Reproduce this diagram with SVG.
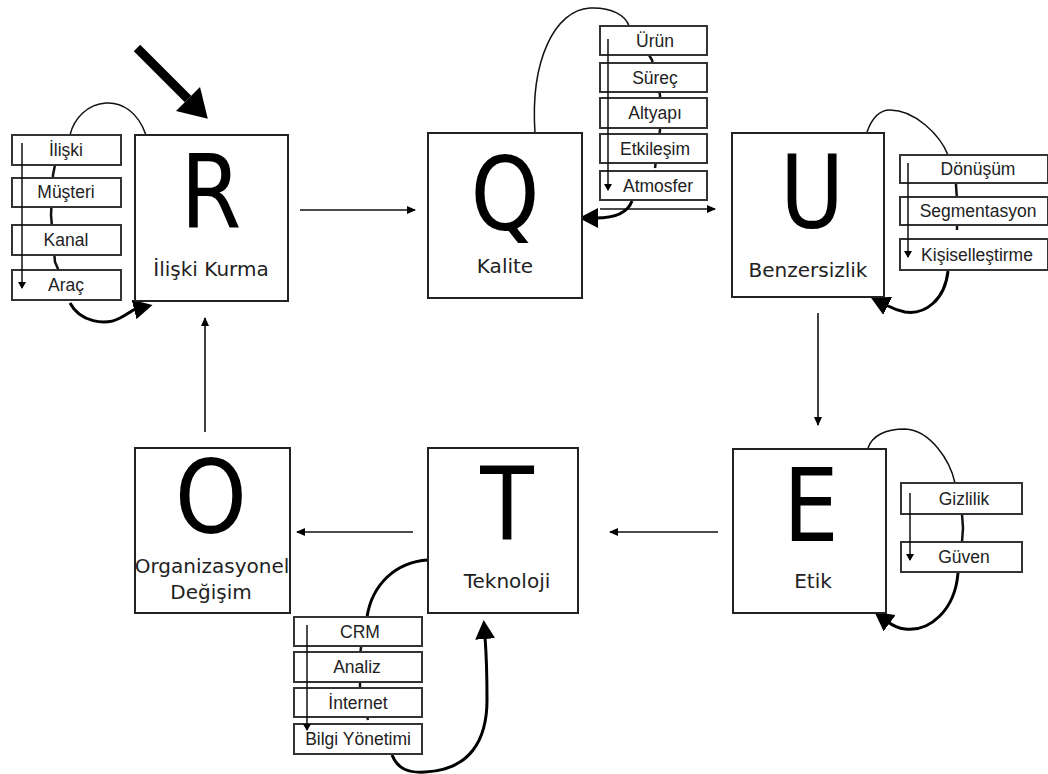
<svg xmlns="http://www.w3.org/2000/svg" width="1048" height="774" viewBox="0 0 1048 774">
<style>
.box{fill:#fff;stroke:#222;stroke-width:2}
.item{fill:#fff;stroke:#333;stroke-width:2}
.big{font-family:"DejaVu Sans",sans-serif;font-size:102px;fill:#000;text-anchor:middle}
.lbl{font-family:"DejaVu Sans",sans-serif;font-size:20px;fill:#222;text-anchor:middle}
.it{font-family:"Liberation Sans",Arial,sans-serif;font-size:17.5px;fill:#222;text-anchor:middle}
.ln{fill:none;stroke:#111;stroke-width:1.5}
.thin{fill:none;stroke:#111;stroke-width:1.6}
.thick{fill:none;stroke:#000;stroke-width:3}
.gap{fill:none;stroke:#111;stroke-width:2.5}
</style>
<defs>
<marker id="a" markerUnits="userSpaceOnUse" markerWidth="9" markerHeight="8" refX="8" refY="4" orient="auto"><path d="M0,0 L9,4 L0,8 z" fill="#000"/></marker>
<marker id="b" markerUnits="userSpaceOnUse" markerWidth="20" markerHeight="20" refX="2" refY="10" orient="auto"><path d="M0,0 L19,10 L0,20 z" fill="#000"/></marker>
<marker id="d" markerUnits="userSpaceOnUse" markerWidth="30" markerHeight="34" refX="0" refY="17" orient="auto"><path d="M0,0 L28,17 L0,34 z" fill="#000"/></marker>
<marker id="s" markerUnits="userSpaceOnUse" markerWidth="7" markerHeight="8" refX="6" refY="4" orient="auto"><path d="M0,0 L7,4 L0,8 z" fill="#000"/></marker>
</defs>

<g id="connectors">
<path class="thin" d="M300,210 L415,210" marker-end="url(#a)"/>
<path class="thin" d="M600,209 L715,209" marker-end="url(#a)"/>
<path class="thin" d="M818,313 L818,425" marker-end="url(#a)"/>
<path class="thin" d="M718,532 L610,532" marker-end="url(#a)"/>
<path class="thin" d="M413,532 L297,532" marker-end="url(#a)"/>
<path class="thin" d="M205,432 L205,318" marker-end="url(#a)"/>
<path fill="none" stroke="#000" stroke-width="9" d="M137,48 L188,99" marker-end="url(#d)"/>
<!-- R loop -->
<path class="ln" d="M146,135 C138,112 122,102 106,103 C88,104 74,118 70,135"/>
<path class="gap" d="M60,140 L53,175 L51,215 L55,262 L65,285"/>
<path class="thick" d="M70,303 C80,322 105,326 120,318 C128,314 132,310 136,309" marker-end="url(#b)"/>
<!-- Q loop -->
<path class="ln" d="M535,133 C530,60 555,10 590,8 C612,7 626,16 629,26"/>
<path class="gap" d="M640,40 L652,60 L660,95 L660,130 L655,168"/>
<path class="thick" d="M632,201 C628,212 615,218 596,218" marker-end="url(#b)"/>
<!-- U loop -->
<path class="ln" d="M867,132 C872,118 880,110 890,110 C915,110 940,135 948,155"/>
<path class="gap" d="M955,170 L957,200 L957,230"/>
<path class="thick" d="M948,271 C945,300 925,315 905,312 C895,310 890,307 886,305" marker-end="url(#b)"/>
<!-- E loop -->
<path class="ln" d="M868,448 C872,436 885,429 905,429 C930,430 950,460 955,483"/>
<path class="gap" d="M962,514 L963,528 L962,542"/>
<path class="thick" d="M958,573 C955,610 930,632 905,629 C897,628 892,625 888,622" marker-end="url(#b)"/>
<!-- T loop -->
<path class="thick" d="M367,617 C372,585 395,562 428,560"/>
<path class="gap" d="M362,640 L360,655 L360,690 L368,720"/>
<path class="thick" d="M392,755 C398,770 410,773 425,772 C470,770 487,740 487,700 C487,670 486,650 485,637" marker-end="url(#b)"/>
</g>

<g id="node-R">
<rect class="box" x="135" y="135" width="153" height="166"/>
<text class="big" transform="translate(211,227) scale(0.86,1)">R</text>
<text class="lbl" x="211" y="276" font-size="21">İlişki Kurma</text>
</g>
<g id="list-R">
<rect class="item" x="12" y="135" width="109" height="30"/>
<rect class="item" x="12" y="178" width="109" height="29"/>
<rect class="item" x="12" y="225" width="109" height="30"/>
<rect class="item" x="12" y="270" width="109" height="30"/>
<text class="it" x="66" y="156">İlişki</text>
<text class="it" x="66" y="198">Müşteri</text>
<text class="it" x="66" y="246">Kanal</text>
<text class="it" x="66" y="291">Araç</text>
<path class="ln" d="M22,143 L22,288" marker-end="url(#s)"/>
</g>

<g id="node-Q">
<rect class="box" x="428" y="133" width="154" height="165"/>
<text class="big" transform="translate(505,230) scale(0.86,1)">Q</text>
<text class="lbl" x="505" y="273">Kalite</text>
</g>
<g id="list-Q">
<rect class="item" x="600" y="26" width="107" height="29"/>
<rect class="item" x="600" y="63" width="107" height="29"/>
<rect class="item" x="600" y="98" width="107" height="30"/>
<rect class="item" x="600" y="134" width="107" height="29"/>
<rect class="item" x="600" y="171" width="107" height="29"/>
<text class="it" x="655" y="47">Ürün</text>
<text class="it" x="655" y="84">Süreç</text>
<text class="it" x="655" y="119">Altyapı</text>
<text class="it" x="655" y="155">Etkileşim</text>
<text class="it" x="658" y="192">Atmosfer</text>
<path class="ln" d="M608,39 L608,190" marker-end="url(#s)"/>
</g>

<g id="node-U">
<rect class="box" x="732" y="133" width="152" height="164"/>
<text class="big" transform="translate(812,228) scale(0.86,1)">U</text>
<text class="lbl" x="808" y="277" font-size="22">Benzersizlik</text>
</g>
<g id="list-U">
<rect class="item" x="900" y="155" width="148" height="28"/>
<rect class="item" x="900" y="197" width="148" height="28"/>
<rect class="item" x="900" y="239" width="148" height="31"/>
<text class="it" x="978" y="175">Dönüşüm</text>
<text class="it" x="978" y="217">Segmentasyon</text>
<text class="it" x="977" y="261">Kişiselleştirme</text>
<path class="ln" d="M908,163 L908,257" marker-end="url(#s)"/>
</g>

<g id="node-E">
<rect class="box" x="733" y="449" width="153" height="164"/>
<text class="big" transform="translate(811,541) scale(0.86,1)">E</text>
<text class="lbl" x="813" y="588">Etik</text>
</g>
<g id="list-E">
<rect class="item" x="901" y="483" width="121" height="31"/>
<rect class="item" x="901" y="542" width="121" height="30"/>
<text class="it" x="964" y="505">Gizlilik</text>
<text class="it" x="964" y="563">Güven</text>
<path class="ln" d="M910,493 L910,560" marker-end="url(#s)"/>
</g>

<g id="node-T">
<rect class="box" x="428" y="448" width="150" height="165"/>
<text class="big" transform="translate(507,540) scale(0.86,1)">T</text>
<text class="lbl" x="507" y="588">Teknoloji</text>
</g>
<g id="list-T">
<rect class="item" x="294" y="617" width="128" height="29"/>
<rect class="item" x="294" y="652" width="128" height="30"/>
<rect class="item" x="294" y="688" width="128" height="29"/>
<rect class="item" x="294" y="724" width="128" height="30"/>
<text class="it" x="360" y="638">CRM</text>
<text class="it" x="357" y="673">Analiz</text>
<text class="it" x="358" y="709">İnternet</text>
<text class="it" x="358" y="745">Bilgi Yönetimi</text>
<path class="ln" d="M307,625 L307,730" marker-end="url(#s)"/>
</g>

<g id="node-O">
<rect class="box" x="135" y="448" width="155" height="165"/>
<text class="big" transform="translate(211,533) scale(0.9,1)" font-size="93">O</text>
<text class="lbl" x="212" y="573" font-size="19.5">Organizasyonel</text>
<text class="lbl" x="211" y="599">Değişim</text>
</g>
</svg>
